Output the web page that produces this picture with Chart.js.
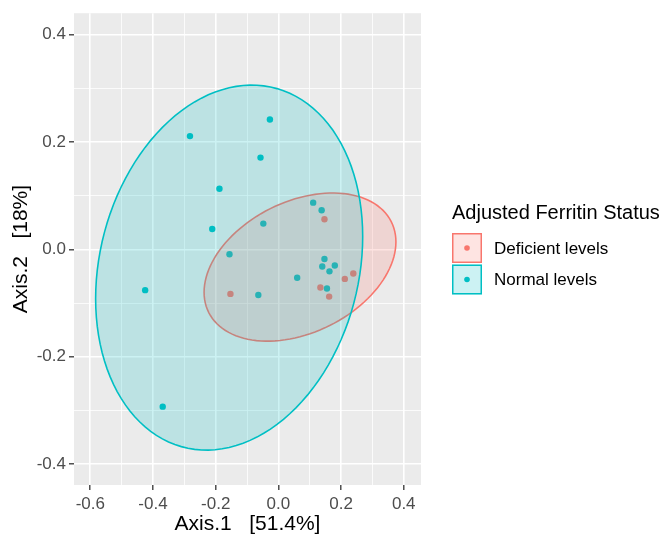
<!DOCTYPE html>
<html>
<head>
<meta charset="utf-8">
<script src="https://cdn.jsdelivr.net/npm/chart.js@4.4.0/dist/chart.umd.min.js"></script>
<style>
  html, body { margin: 0; padding: 0; background: #ffffff; }
  #wrap { width: 660px; height: 538px; }
</style>
</head>
<body>
<div id="wrap"><canvas id="ordChart" width="660" height="538"></canvas></div>
<script>
// groups + colours (ggplot default hue palette)
const groups = ['Deficient levels', 'Normal levels'];
const groupColors = ['#F8766D', '#00BFC4'];
const legendTitle = 'Adjusted Ferritin Status';
const xTitle = 'Axis.1   [51.4%]';
const yTitle = 'Axis.2   [18%]';

// ordination scores
const deficientX = [0.147, -0.153, 0.134, 0.162, 0.212, 0.239];
const deficientY = [0.056, -0.083, -0.071, -0.088, -0.055, -0.045];
const normalX = [-0.282, -0.027, -0.057, -0.188, -0.211, -0.048, 0.111, 0.138, -0.156,
                 -0.064, 0.060, 0.147, 0.140, 0.180, 0.163, 0.155, -0.425, -0.369];
const normalY = [0.211, 0.242, 0.171, 0.113, 0.038, 0.048, 0.087, 0.073, -0.009,
                 -0.085, -0.053, -0.018, -0.032, -0.030, -0.041, -0.073, -0.076, -0.293];

// 95% ellipses: centre x, centre y, half extent x, half extent y, correlation
const deficientEllipse = [0.069, -0.033, 0.306, 0.138, 0.34];
const normalEllipse = [-0.157, -0.034, 0.426, 0.340, 0.17];

// axis ranges and ticks
const xRange = [-0.652, 0.455];
const yRange = [-0.439, 0.440];
const tickStep = 0.1;

const toPoints = (xs, ys) => xs.map((x, i) => ({ x: x, y: ys[i] }));
const isMajor = v => Math.abs(Math.round(v * 10)) % 2 === 0;

function hexAlpha(hex, a) {
    const n = parseInt(hex.slice(1), 16);
    return 'rgba(' + (n >> 16) + ',' + ((n >> 8) & 255) + ',' + (n & 255) + ',' + a + ')';
}

function tracePath(ctx, xs, ys, e) {
    const cx = e[0], cy = e[1], rx = e[2], ry = e[3], rho = e[4];
    const s = Math.sqrt(1 - rho * rho);
    ctx.beginPath();
    for (let i = 0; i <= 120; i++) {
        const t = i / 120 * Math.PI * 2;
        const px = xs.getPixelForValue(cx + rx * Math.cos(t));
        const py = ys.getPixelForValue(cy + ry * (rho * Math.cos(t) + s * Math.sin(t)));
        if (i === 0) ctx.moveTo(px, py); else ctx.lineTo(px, py);
    }
    ctx.closePath();
}

const panelPlugin = {
    id: 'panel',
    beforeDraw(chart) {
        const a = chart.chartArea, ctx = chart.ctx;
        ctx.save();
        ctx.fillStyle = '#EBEBEB';
        ctx.fillRect(a.left, a.top, a.right - a.left, a.bottom - a.top);
        ctx.restore();
    }
};

const ellipsePlugin = {
    id: 'ellipses',
    afterDatasetsDraw(chart) {
        const ctx = chart.ctx, xs = chart.scales.x, ys = chart.scales.y;
        const a = chart.chartArea;
        [deficientEllipse, normalEllipse].forEach((e, i) => {
            ctx.save();
            ctx.beginPath();
            ctx.rect(a.left, a.top, a.right - a.left, a.bottom - a.top);
            ctx.clip();
            tracePath(ctx, xs, ys, e);
            ctx.fillStyle = hexAlpha(groupColors[i], 0.2);
            ctx.fill();
            ctx.strokeStyle = groupColors[i];
            ctx.lineWidth = 1.6;
            ctx.stroke();
            ctx.restore();
        });
    }
};

const legendPlugin = {
    id: 'sideLegend',
    afterDraw(chart) {
        const ctx = chart.ctx;
        const x0 = 452, top = 233, key = 30, gap = 1.5;
        ctx.save();
        ctx.fillStyle = '#000000';
        ctx.font = '20px "Liberation Sans", Arial, sans-serif';
        ctx.textBaseline = 'alphabetic';
        ctx.textAlign = 'left';
        ctx.fillText(legendTitle, x0, 219);
        groups.forEach((g, i) => {
            const y = top + i * (key + gap);
            ctx.fillStyle = hexAlpha(groupColors[i], 0.2);
            ctx.fillRect(x0, y, key, key);
            ctx.strokeStyle = groupColors[i];
            ctx.lineWidth = 1.5;
            ctx.strokeRect(x0 + 0.75, y + 0.75, key - 1.5, key - 1.5);
            ctx.fillStyle = groupColors[i];
            ctx.beginPath();
            ctx.arc(x0 + key / 2, y + key / 2, 2.8, 0, Math.PI * 2);
            ctx.fill();
            ctx.fillStyle = '#000000';
            ctx.font = '17px "Liberation Sans", Arial, sans-serif';
            ctx.textBaseline = 'middle';
            ctx.fillText(g, 494, y + key / 2 + 1);
        });
        ctx.restore();
    }
};

const gridOpts = {
    color: ctx => '#FFFFFF',
    lineWidth: ctx => (ctx.tick && isMajor(ctx.tick.value)) ? 1.6 : 0.8,
    drawTicks: true,
    tickLength: 5,
    tickWidth: 1.3,
    tickColor: ctx => (ctx.tick && isMajor(ctx.tick.value)) ? '#333333' : 'rgba(0,0,0,0)'
};

const tickFont = { family: '"Liberation Sans", Arial, sans-serif', size: 17 };
const titleFont = { family: '"Liberation Sans", Arial, sans-serif', size: 21 };

new Chart(document.getElementById('ordChart').getContext('2d'), {
    type: 'scatter',
    data: {
        datasets: [
            {
                label: groups[0],
                data: toPoints(deficientX, deficientY),
                backgroundColor: groupColors[0],
                borderWidth: 0,
                pointRadius: 3.2
            },
            {
                label: groups[1],
                data: toPoints(normalX, normalY),
                backgroundColor: groupColors[1],
                borderWidth: 0,
                pointRadius: 3.2
            }
        ]
    },
    options: {
        responsive: false,
        animation: false,
        devicePixelRatio: 1,
        layout: { padding: { left: 0, right: 239, top: 12, bottom: 0 } },
        plugins: {
            legend: { display: false },
            tooltip: { enabled: false }
        },
        scales: {
            x: {
                type: 'linear',
                min: xRange[0],
                max: xRange[1],
                afterFit: s => { s.height = 53; },
                border: { display: false },
                grid: gridOpts,
                ticks: {
                    stepSize: tickStep,
                    includeBounds: false,
                    autoSkip: false,
                    maxRotation: 0,
                    padding: 4,
                    color: '#4D4D4D',
                    font: tickFont,
                    callback: v => isMajor(v) ? v.toFixed(1) : ''
                },
                title: {
                    display: true,
                    text: xTitle,
                    color: '#000000',
                    font: titleFont,
                    padding: { top: 0, bottom: 1 }
                }
            },
            y: {
                type: 'linear',
                min: yRange[0],
                max: yRange[1],
                afterFit: s => { s.width = 74; },
                border: { display: false },
                grid: gridOpts,
                ticks: {
                    stepSize: tickStep,
                    includeBounds: false,
                    autoSkip: false,
                    padding: 3,
                    color: '#4D4D4D',
                    font: tickFont,
                    callback: v => isMajor(v) ? v.toFixed(1) : ''
                },
                title: {
                    display: true,
                    text: yTitle,
                    color: '#000000',
                    font: titleFont,
                    padding: { top: 9, bottom: 0 }
                }
            }
        }
    },
    plugins: [panelPlugin, ellipsePlugin, legendPlugin]
});
</script>
</body>
</html>
